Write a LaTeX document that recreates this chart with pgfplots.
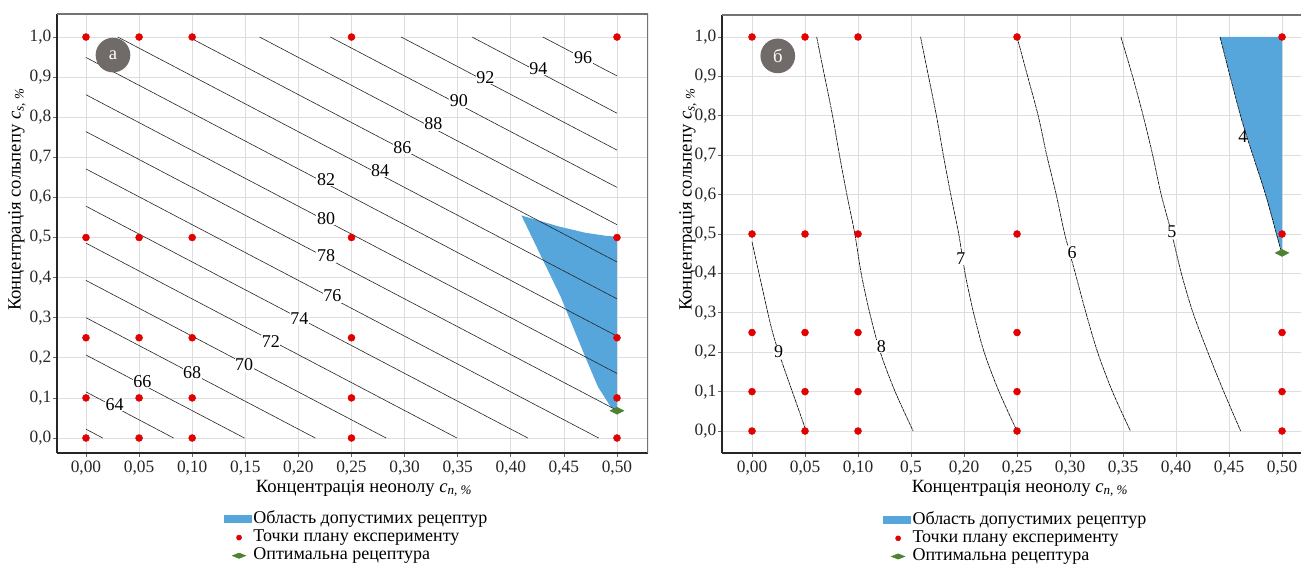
\documentclass[border=0pt]{standalone}
\usepackage{fontspec}
\setmainfont{Liberation Serif}
\usepackage{pgfplots}
\pgfplotsset{compat=1.18}

\definecolor{areablue}{RGB}{86,166,220}
\definecolor{ptred}{RGB}{226,0,0}
\definecolor{optgreen}{RGB}{76,130,48}
\definecolor{badge}{RGB}{112,107,105}
\definecolor{gridc}{RGB}{222,222,222}

\tikzset{
  clab/.style={fill=white, inner sep=0.5pt, font=\fontsize{13.5}{15}\selectfont},
  ttl/.style={font=\fontsize{14}{16}\selectfont},
}
\pgfplotsset{
  panel/.style={
    scale only axis, anchor=south west,
    axis lines*=left,
    axis line style={black!85, line width=0.8pt},
    grid=major, grid style={gridc, line width=0.5pt},
    tick align=outside, major tick length=3pt,
    tick style={black!60, line width=0.5pt},
    xtick={0,0.05,0.1,0.15,0.2,0.25,0.3,0.35,0.4,0.45,0.5},
    ytick={0,0.1,0.2,0.3,0.4,0.5,0.6,0.7,0.8,0.9,1},
    yticklabels={{0,0},{0,1},{0,2},{0,3},{0,4},{0,5},{0,6},{0,7},{0,8},{0,9},{1,0}},
    ticklabel style={font=\fontsize{13}{15}\selectfont, black!85},
    yticklabel style={inner sep=1pt},
    xticklabel style={inner sep=2.5pt},
    legend cell align=left,
    legend style={draw=none, fill=none, anchor=north west,
      font=\fontsize{13.5}{15}\selectfont,
      nodes={text height=9pt, text depth=3pt, inner sep=0.8pt},
      row sep=0pt},
  },
  cline/.style={forget plot, black!85, line width=0.45pt},
  rline/.style={forget plot, black, line width=0.45pt, dash pattern=on 3pt off 0.5pt, smooth},
  blueleg/.style={legend image code/.code={\fill[areablue] (0pt,-3pt) rectangle (21pt,3pt);}},
  redleg/.style={legend image code/.code={\fill[ptred] (11pt,0pt) circle (1.9pt);}},
  greenleg/.style={legend image code/.code={\fill[optgreen] (6pt,0pt) -- (11pt,2pt) -- (16pt,0pt) -- (11pt,-2pt) -- cycle;}},
}

\begin{document}
\begin{tikzpicture}
\useasboundingbox (0,0) rectangle (975.75pt,423.75pt);

% ---------------- panel a
\begin{axis}[panel,
  at={(42.75pt,84pt)}, width=443.25pt, height=329.25pt,
  xmin=-0.0273, xmax=0.5292, ymin=-0.0374, ymax=1.0574,
  xticklabels={{0,00},{0,05},{0,10},{0,15},{0,20},{0,25},{0,30},{0,35},{0,40},{0,45},{0,50}},
  legend style={at={(axis description cs:0.2760,-0.124)}},
]
\addplot[blueleg, fill=areablue, draw=none] coordinates {
  (0.410,0.555) (0.446,0.527) (0.470,0.512) (0.490,0.504) (0.500,0.502)
  (0.500,0.070) (0.499,0.068) (0.494,0.078) (0.482,0.128) (0.470,0.203)
  (0.447,0.352)
};
\addlegendentry{Область допустимих рецептур}

% contour lines, levels 62 ... 96
\addplot[cline] coordinates {(0,0.022) (0.0158,0)};
\addplot[cline] coordinates {(0,0.115) (0.0825,0)};
\addplot[cline] coordinates {(0,0.207) (0.1492,0)};
\addplot[cline] coordinates {(0,0.300) (0.2159,0)};
\addplot[cline] coordinates {(0,0.393) (0.2826,0)};
\addplot[cline] coordinates {(0,0.486) (0.3493,0)};
\addplot[cline] coordinates {(0,0.578) (0.4160,0)};
\addplot[cline] coordinates {(0,0.671) (0.4827,0)};
\addplot[cline] coordinates {(0,0.764) (0.5,0.069)};
\addplot[cline] coordinates {(0,0.856) (0.5,0.161)};
\addplot[cline] coordinates {(0,0.949) (0.5,0.254)};
\addplot[cline] coordinates {(0.030,1) (0.5,0.347)};
\addplot[cline] coordinates {(0.0967,1) (0.5,0.439)};
\addplot[cline] coordinates {(0.1634,1) (0.5,0.532)};
\addplot[cline] coordinates {(0.2301,1) (0.5,0.625)};
\addplot[cline] coordinates {(0.2968,1) (0.5,0.718)};
\addplot[cline] coordinates {(0.3635,1) (0.5,0.810)};
\addplot[cline] coordinates {(0.4302,1) (0.5,0.903)};

\node[clab] at (axis cs:0.027,0.083) {64};
\node[clab] at (axis cs:0.053,0.141) {66};
\node[clab] at (axis cs:0.100,0.163) {68};
\node[clab] at (axis cs:0.149,0.182) {70};
\node[clab] at (axis cs:0.174,0.240) {72};
\node[clab] at (axis cs:0.201,0.299) {74};
\node[clab] at (axis cs:0.232,0.354) {76};
\node[clab] at (axis cs:0.226,0.454) {78};
\node[clab] at (axis cs:0.226,0.547) {80};
\node[clab] at (axis cs:0.226,0.645) {82};
\node[clab] at (axis cs:0.277,0.667) {84};
\node[clab] at (axis cs:0.298,0.725) {86};
\node[clab] at (axis cs:0.327,0.783) {88};
\node[clab] at (axis cs:0.351,0.841) {90};
\node[clab] at (axis cs:0.376,0.899) {92};
\node[clab] at (axis cs:0.426,0.921) {94};
\node[clab] at (axis cs:0.468,0.949) {96};

\addplot[redleg, only marks, mark=*, mark size=2.6pt, color=ptred] coordinates {
  (0,0) (0.05,0) (0.1,0) (0.25,0) (0.5,0)
  (0,0.1) (0.05,0.1) (0.1,0.1) (0.25,0.1) (0.5,0.1)
  (0,0.25) (0.05,0.25) (0.1,0.25) (0.25,0.25) (0.5,0.25)
  (0,0.5) (0.05,0.5) (0.1,0.5) (0.25,0.5) (0.5,0.5)
  (0,1) (0.05,1) (0.1,1) (0.25,1) (0.5,1)
};
\addlegendentry{Точки плану експерименту}
\addplot[greenleg, only marks, mark=diamond*, mark size=2.6pt, mark options={xscale=2.6}, color=optgreen] coordinates {(0.5,0.068)};
\addlegendentry{Оптимальна рецептура}

\draw[black!55, line width=0.8pt] (rel axis cs:0,1) -- (rel axis cs:1,1) -- (rel axis cs:1,0);
\node[circle, fill=badge, minimum size=26pt, inner sep=0pt, text=white, font=\fontsize{14}{15}\selectfont] at (axis cs:0.0254,0.955) {а};
\end{axis}

% ---------------- panel b
\begin{axis}[panel,
  at={(541.5pt,84pt)}, width=439.9pt, height=328.5pt,
  xmin=-0.0283, xmax=0.525, ymin=-0.0558, ymax=1.0558,
  xticklabels={{0,00},{0,05},{0,10},{0,5},{0,20},{0,25},{0,30},{0,35},{0,40},{0,45},{0,50}},
  legend style={at={(axis description cs:0.2680,-0.126)}},
]
\addplot[blueleg, fill=areablue, draw=none] coordinates {
  (0.4415,1.0) (0.5,1.0) (0.5,0.46) (0.498,0.468) (0.484,0.604) (0.462,0.789)
};
\addlegendentry{Область допустимих рецептур}

\addplot[rline] coordinates {(0.000,0.480) (0.008,0.383) (0.018,0.265) (0.025,0.201) (0.033,0.138) (0.043,0.062) (0.051,0.0)};
\addplot[rline] coordinates {(0.061,1.0) (0.0685,0.9) (0.076,0.8) (0.0825,0.7) (0.0895,0.6) (0.097,0.5) (0.103,0.4) (0.111,0.3) (0.121,0.2) (0.135,0.1) (0.152,0.0)};
\addplot[rline] coordinates {(0.159,1.0) (0.1665,0.9) (0.174,0.8) (0.1805,0.7) (0.1875,0.6) (0.195,0.5) (0.201,0.4) (0.209,0.3) (0.219,0.2) (0.233,0.1) (0.250,0.0)};
\addplot[rline] coordinates {(0.250,1.0) (0.260,0.9) (0.270,0.8) (0.278,0.7) (0.287,0.6) (0.295,0.5) (0.305,0.4) (0.315,0.3) (0.326,0.2) (0.340,0.1) (0.357,0.0)};
\addplot[rline] coordinates {(0.348,1.0) (0.359,0.9) (0.369,0.8) (0.378,0.7) (0.386,0.6) (0.396,0.5) (0.405,0.4) (0.416,0.3) (0.430,0.2) (0.445,0.1) (0.461,0.0)};
\addplot[rline] coordinates {(0.4415,1.0) (0.462,0.789) (0.484,0.604) (0.498,0.468) (0.5,0.46)};

\node[clab] at (axis cs:0.025,0.201) {9};
\node[clab] at (axis cs:0.122,0.214) {8};
\node[clab] at (axis cs:0.197,0.438) {7};
\node[clab] at (axis cs:0.302,0.453) {6};
\node[clab] at (axis cs:0.396,0.505) {5};
\node[font=\fontsize{13.5}{15}\selectfont, inner sep=0.5pt] at (axis cs:0.463,0.747) {4};

\addplot[redleg, only marks, mark=*, mark size=2.6pt, color=ptred] coordinates {
  (0,0) (0.05,0) (0.1,0) (0.25,0) (0.5,0)
  (0,0.1) (0.05,0.1) (0.1,0.1) (0.25,0.1) (0.5,0.1)
  (0,0.25) (0.05,0.25) (0.1,0.25) (0.25,0.25) (0.5,0.25)
  (0,0.5) (0.05,0.5) (0.1,0.5) (0.25,0.5) (0.5,0.5)
  (0,1) (0.05,1) (0.1,1) (0.25,1) (0.5,1)
};
\addlegendentry{Точки плану експерименту}
\addplot[greenleg, only marks, mark=diamond*, mark size=2.6pt, mark options={xscale=2.6}, color=optgreen] coordinates {(0.5,0.452)};
\addlegendentry{Оптимальна рецептура}

\draw[black!55, line width=0.8pt] (rel axis cs:0,1) -- (rel axis cs:1,1) -- (rel axis cs:1,0);
\node[circle, fill=badge, minimum size=26pt, inner sep=0pt, text=white, font=\fontsize{14}{15}\selectfont] at (axis cs:0.0243,0.952) {б};
\end{axis}

% axis titles
\node[ttl] at (273pt,57.5pt) {Концентрація неонолу \textit{c}\textsubscript{\textit{n}, \textit{\%}}};
\node[ttl] at (765pt,57.5pt) {Концентрація неонолу \textit{c}\textsubscript{\textit{n}, \textit{\%}}};
\node[ttl, rotate=90] at (12.75pt,274pt) {Концентрація сольпепу \textit{c}\textsubscript{\textit{s}, \textit{\%}}};
\node[ttl, rotate=90] at (516pt,274pt) {Концентрація сольпепу \textit{c}\textsubscript{\textit{s}, \textit{\%}}};
\end{tikzpicture}
\end{document}
